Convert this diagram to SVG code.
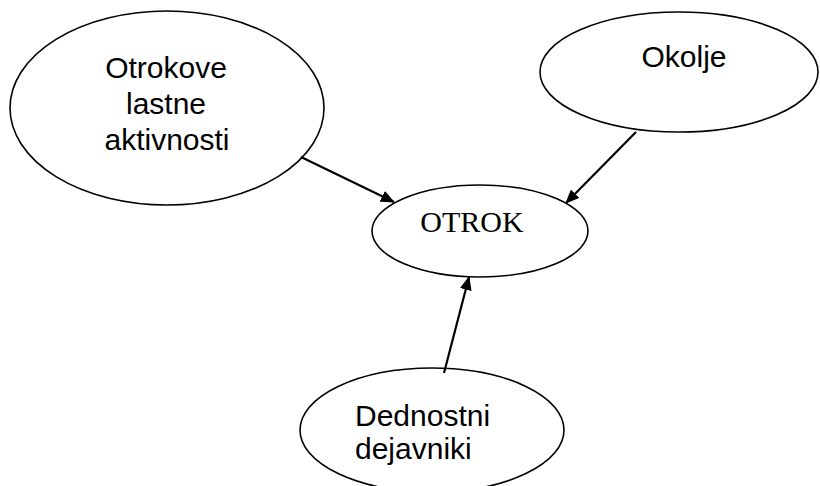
<svg xmlns="http://www.w3.org/2000/svg" width="820" height="486" viewBox="0 0 820 486">
<defs>
<marker id="ah" markerWidth="14" markerHeight="12" refX="13" refY="6" orient="auto" markerUnits="userSpaceOnUse">
<path d="M0,0 L14,6 L0,12 Z" fill="#000"/>
</marker>
</defs>
<style>
.n{fill:#fff;stroke:#000;stroke-width:1.6}
.t{font-family:"Liberation Sans",Arial,sans-serif;font-size:30px;fill:#000}
.s{font-family:"Liberation Serif","Times New Roman",serif;font-size:30px;fill:#000}
.c{stroke:#000;stroke-width:2.2;fill:none}
</style>
<rect width="820" height="486" fill="#fff"/>
<g id="n1">
<ellipse class="n" cx="167" cy="108" rx="157" ry="97"/>
<text class="t" x="166" y="78" text-anchor="middle">Otrokove</text>
<text class="t" x="166" y="114" text-anchor="middle">lastne</text>
<text class="t" x="167" y="150" text-anchor="middle">aktivnosti</text>
</g>
<g id="n2">
<ellipse class="n" cx="679" cy="72" rx="139" ry="60"/>
<text class="t" x="684" y="67" text-anchor="middle">Okolje</text>
</g>
<g id="n3">
<ellipse class="n" cx="480" cy="231" rx="108" ry="46"/>
<text class="s" x="472" y="232" text-anchor="middle">OTROK</text>
</g>
<g id="n4">
<ellipse class="n" cx="432" cy="430" rx="132" ry="62"/>
<text class="t" x="355" y="426">Dednostni</text>
<text class="t" x="355" y="459">dejavniki</text>
</g>
<g id="connectors">
<line class="c" x1="301" y1="157" x2="394" y2="202" marker-end="url(#ah)"/>
<line class="c" x1="636" y1="132" x2="566" y2="203" marker-end="url(#ah)"/>
<line class="c" x1="444" y1="373" x2="469" y2="277" marker-end="url(#ah)"/>
</g>
</svg>
